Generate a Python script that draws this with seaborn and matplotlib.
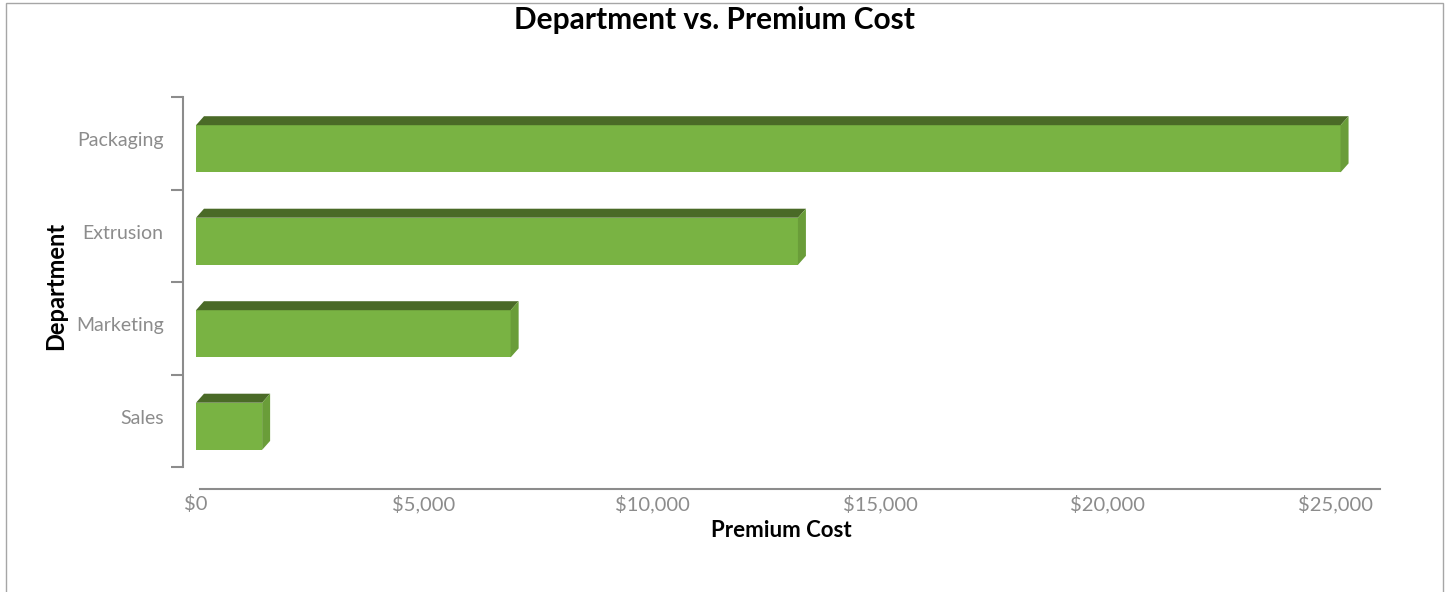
import matplotlib
matplotlib.use("Agg")
import matplotlib.pyplot as plt
import matplotlib.transforms as mtransforms
import seaborn as sns
from matplotlib.patches import Polygon, Rectangle

# data
departments = ["Packaging", "Extrusion", "Marketing", "Sales"]
premium_cost = [25100, 13200, 6900, 1450]
x_ticks = [0, 5000, 10000, 15000, 20000, 25000]
x_tick_labels = ["$0", "$5,000", "$10,000", "$15,000", "$20,000", "$25,000"]

# colours
front_col = "#79B343"
top_col = "#4A6A27"
side_col = "#6A9D39"
tick_col = "#8C8C8C"
axis_col = "#8C8C8C"

sns.set_theme(style="white")
plt.rcParams["font.family"] = ["Lato", "DejaVu Sans"]

fig = plt.figure(figsize=(14.49, 5.92), dpi=100)
ax = fig.add_axes([183 / 1449, 1 - 467 / 592, (1380 - 183) / 1449, (467 - 97) / 592])

sns.barplot(x=premium_cost, y=departments, orient="h", color=front_col,
            saturation=1, width=0.51, ax=ax, edgecolor="none", linewidth=0)

ax.set_xlim(-285, 25965)
ax.set_ylim(3.5, -0.5)

# fake 3D: top and side faces on every bar
px_x = 0.0456   # pixels per data unit along x
px_y = 92.5     # pixels per category
dx = 8 / px_x
dy = 9 / px_y
for p in ax.patches:
    p.set_y(p.get_y() + 0.06)
    x0 = p.get_x()
    x1 = x0 + p.get_width()
    yt = p.get_y()
    yb = yt + p.get_height()
    top = Polygon([(x0, yt), (x0 + dx, yt - dy), (x1 + dx, yt - dy), (x1, yt)],
                  closed=True, facecolor=top_col, edgecolor="none")
    side = Polygon([(x1, yt), (x1 + dx, yt - dy), (x1 + dx, yb - dy), (x1, yb)],
                   closed=True, facecolor=side_col, edgecolor="none")
    ax.add_patch(top)
    ax.add_patch(side)

# y axis: ticks at category boundaries, labels in between
ax.set_yticks([-0.5, 0.5, 1.5, 2.5, 3.5])
ax.set_yticklabels([])
ax.set_yticks(range(len(departments)), minor=True)
ax.set_yticklabels(departments, minor=True)
ax.tick_params(axis="y", which="major", left=True, length=9, width=1.5,
               color=axis_col, direction="out")
ax.tick_params(axis="y", which="minor", left=False, length=0, pad=14,
               labelsize=14, labelcolor=tick_col)
shift_up = mtransforms.ScaledTranslation(0, 4 / 100, fig.dpi_scale_trans)
for lab in ax.get_yticklabels(minor=True):
    lab.set_transform(lab.get_transform() + shift_up)

# x axis
ax.set_xticks(x_ticks)
ax.set_xticklabels(x_tick_labels)
ax.tick_params(axis="x", bottom=False, length=0, pad=4, labelsize=14.5,
               labelcolor=tick_col)

for s in ["top", "right"]:
    ax.spines[s].set_visible(False)
ax.spines["left"].set_color(axis_col)
ax.spines["left"].set_linewidth(1.5)
ax.spines["bottom"].set_color(axis_col)
ax.spines["bottom"].set_linewidth(1.5)
ax.spines["bottom"].set_position(("outward", 16))
ax.spines["bottom"].set_bounds(90, 25965)

ax.set_xlabel("Premium Cost", fontsize=16, fontweight="bold", color="black", labelpad=5)
ax.set_ylabel("Department", fontsize=17, fontweight="bold", color="black")
ax.yaxis.set_label_coords(-0.097, 0.49)

fig.suptitle("Department vs. Premium Cost", x=0.493, y=0.99, fontsize=21.5,
             fontweight="bold", color="black")

# chart border
fig.patches.append(Rectangle((6 / 1449, -0.05), (1443 - 6) / 1449, 1.05 - 3 / 592,
                             transform=fig.transFigure, fill=False,
                             edgecolor="#A6A6A6", linewidth=1))

fig.savefig("out.png", dpi=100, facecolor="white")
